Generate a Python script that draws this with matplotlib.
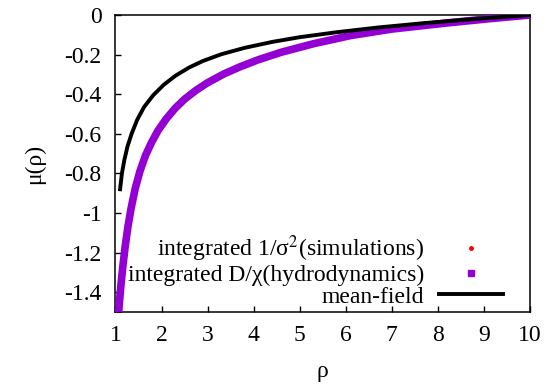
import numpy as np
import matplotlib
matplotlib.use("Agg")
import matplotlib.pyplot as plt
from matplotlib.lines import Line2D

plt.rcParams['font.family'] = ['Liberation Serif', 'DejaVu Serif']
plt.rcParams['mathtext.fontset'] = 'stix'
plt.rcParams['axes.unicode_minus'] = False

# mean-field curve
rho_mf = [1.10, 1.14, 1.19, 1.26, 1.35, 1.47, 1.62, 1.82, 2.05, 2.3, 2.6,
          2.9, 3.3, 3.8, 4.4, 5.0, 5.8, 6.7, 7.7, 8.8, 10.0]
mu_mf = [-0.88, -0.80, -0.735, -0.665, -0.60, -0.53, -0.465, -0.405, -0.352,
         -0.307, -0.265, -0.232, -0.198, -0.166, -0.136, -0.112, -0.087,
         -0.063, -0.041, -0.02, 0.0]

# integrated D/chi (hydrodynamics)
rho_hd = [1.07, 1.09, 1.12, 1.16, 1.21, 1.27, 1.34, 1.43, 1.53, 1.65, 1.78,
          1.92, 2.1, 2.3, 2.5, 2.75, 3.0, 3.35, 3.7, 4.1, 4.6, 5.3, 6.1,
          7.0, 8.2, 9.1, 10.0]
mu_hd = [-1.50, -1.44, -1.36, -1.27, -1.17, -1.07, -0.975, -0.875, -0.79,
         -0.71, -0.645, -0.585, -0.525, -0.47, -0.425, -0.38, -0.342, -0.298,
         -0.262, -0.226, -0.188, -0.145, -0.104, -0.071, -0.040, -0.019, 0.0]

# integrated 1/sigma^2 (simulations), hidden under the purple band
rho_sim = [1.07, 1.12, 1.21, 1.34, 1.53, 1.92, 2.5, 3.0, 4.1, 5.3, 7.0, 10.0]
mu_sim = [-1.50, -1.36, -1.17, -0.975, -0.79, -0.585, -0.425, -0.342, -0.226,
          -0.145, -0.071, 0.0]

purple = '#9400D3'

fig = plt.figure(figsize=(5.47, 3.86), dpi=100)
ax = fig.add_axes([0.2111, 0.1917, 0.7578, 0.7694])

ax.plot(rho_sim, mu_sim, 'o', color='red', ms=2.5, zorder=2)
ax.plot(rho_hd, mu_hd, '-', color=purple, lw=5.5, zorder=3)
ax.plot(rho_mf, mu_mf, '-', color='black', lw=2.8, zorder=4)

ax.set_xlim(1, 10)
ax.set_ylim(-1.5, 0)
ax.set_xticks(range(1, 11))
ax.set_yticks(np.arange(-1.4, 0.01, 0.2))
ax.set_yticklabels(['-1.4', '-1.2', '-1', '-0.8', '-0.6', '-0.4', '-0.2', '0'])
ax.tick_params(direction='in', length=4, width=1, labelsize=17)
ax.tick_params(axis='y', pad=10)
ax.tick_params(axis='x', pad=9)
for s in ax.spines.values():
    s.set_linewidth(1.1)

ax.set_xlabel('ρ', fontsize=17, labelpad=11)
ax.set_ylabel('μ(ρ)', fontsize=17, labelpad=14)

handles = [
    Line2D([], [], ls='none', marker='o', color='red', ms=2.5),
    Line2D([], [], ls='none', marker='s', color=purple, ms=5),
    Line2D([], [], ls='-', color='black', lw=2.8),
]
labels = ['integrated 1/σ$^2$(simulations)',
          'integrated D/χ(hydrodynamics)',
          'mean-field']
ax.legend(handles, labels, loc='lower right', bbox_to_anchor=(0.935, 0.015),
          frameon=False, markerfirst=False, fontsize=17, handlelength=2.7,
          handletextpad=0.64, labelspacing=0.0, borderaxespad=0,
          borderpad=0)

fig.savefig('out.png', dpi=100)
